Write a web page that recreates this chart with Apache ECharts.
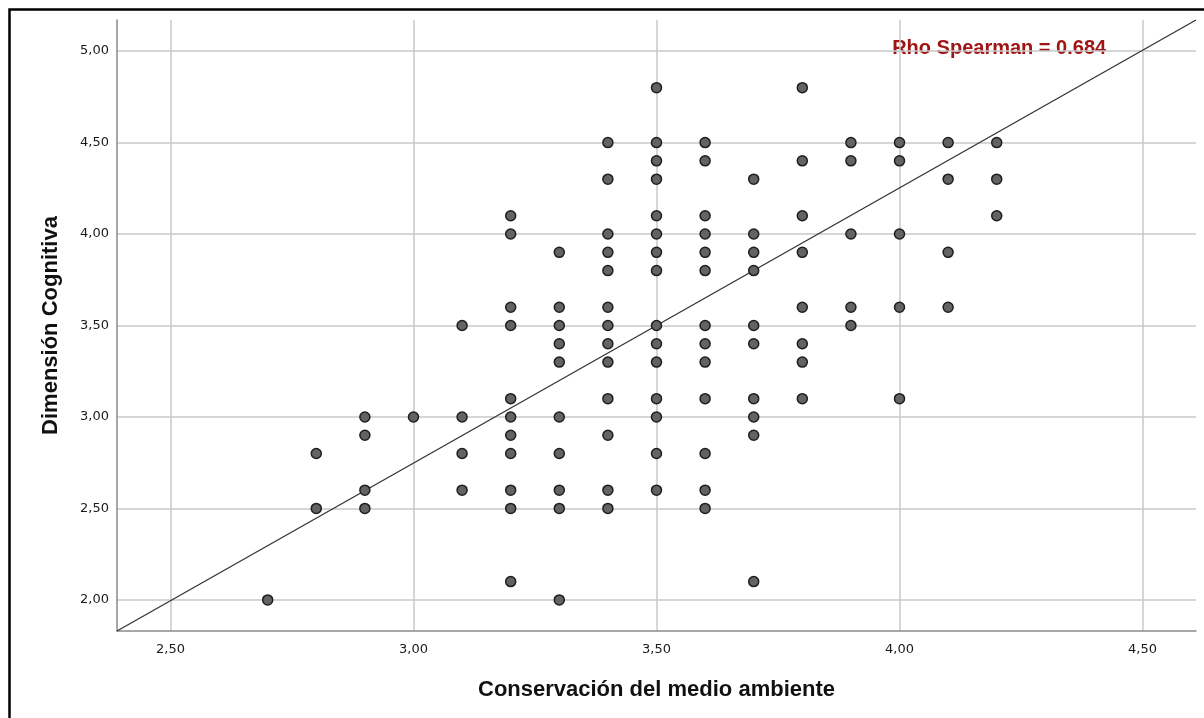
<!DOCTYPE html>
<html>
<head>
<meta charset="utf-8">
<script src="https://cdn.jsdelivr.net/npm/echarts@6/dist/echarts.min.js"></script>
<style>
  html, body { margin: 0; padding: 0; background: #fff; }
  #chart { width: 1204px; height: 718px; }
</style>
</head>
<body>
<div id="chart"></div>
<script>
// x levels (Conservación del medio ambiente) and the y values seen at each level
var xLevels = [2.7, 2.8, 2.9, 3.0, 3.1, 3.2, 3.3, 3.4, 3.5, 3.6, 3.7, 3.8, 3.9, 4.0, 4.1, 4.2];
var yByX = [
  [2.0],
  [2.8, 2.5],
  [3.0, 2.9, 2.6, 2.5],
  [3.0],
  [3.5, 3.0, 2.8, 2.6],
  [4.1, 4.0, 3.6, 3.5, 3.1, 3.0, 2.9, 2.8, 2.6, 2.5, 2.1],
  [3.9, 3.6, 3.5, 3.4, 3.3, 3.0, 2.8, 2.6, 2.5, 2.0],
  [4.5, 4.3, 4.0, 3.9, 3.8, 3.6, 3.5, 3.4, 3.3, 3.1, 2.9, 2.6, 2.5],
  [4.8, 4.5, 4.4, 4.3, 4.1, 4.0, 3.9, 3.8, 3.5, 3.4, 3.3, 3.1, 3.0, 2.8, 2.6],
  [4.5, 4.4, 4.1, 4.0, 3.9, 3.8, 3.5, 3.4, 3.3, 3.1, 2.8, 2.6, 2.5],
  [4.3, 4.0, 3.9, 3.8, 3.5, 3.4, 3.1, 3.0, 2.9, 2.1],
  [4.8, 4.4, 4.1, 3.9, 3.6, 3.4, 3.3, 3.1],
  [4.5, 4.4, 4.0, 3.6, 3.5],
  [4.5, 4.4, 4.0, 3.6, 3.1],
  [4.5, 4.3, 3.9, 3.6],
  [4.5, 4.3, 4.1]
];
// fit line endpoints (read at the plot edges)
var fitX = [2.39, 4.61];
var fitY = [1.83, 5.17];
var xTicks = [2.5, 3.0, 3.5, 4.0, 4.5];
var yTicks = [2.0, 2.5, 3.0, 3.5, 4.0, 4.5, 5.0];
var rhoText = "Rho Spearman = 0.684";

var points = [];
xLevels.forEach(function (x, i) {
  yByX[i].forEach(function (y) { points.push([x, y]); });
});

function fmt(v) { return v.toFixed(2).replace(".", ","); }

var chart = echarts.init(document.getElementById("chart"));
var axisLine = { show: true, onZero: false, lineStyle: { color: "#8a8a8a", width: 1.5 } };
var gridLine = { show: true, lineStyle: { color: "#c8c8c8", width: 1.5 } };
var tickFont = { fontFamily: "DejaVu Sans", fontSize: 13, color: "#1a1a1a" };

var option = {
  animation: false,
  backgroundColor: "#fff",
  textStyle: { fontFamily: "Liberation Sans, Arial, sans-serif" },
  grid: { left: 117, right: 8, top: 20, bottom: 87 },
  graphic: [
    {
      type: "rect",
      shape: { x: 9.5, y: 9.5, width: 1220, height: 740 },
      style: { fill: "none", stroke: "#000", lineWidth: 2.5 },
      silent: true
    }
  ],
  xAxis: {
    type: "value",
    min: 2.39,
    max: 4.61,
    name: "Conservación del medio ambiente",
    nameLocation: "middle",
    nameGap: 48,
    nameTextStyle: { fontSize: 22, fontWeight: "bold", color: "#111" },
    axisLine: axisLine,
    axisTick: { show: false, customValues: xTicks },
    axisLabel: Object.assign({ customValues: xTicks, formatter: fmt, margin: 12 }, tickFont),
    splitLine: gridLine
  },
  yAxis: {
    type: "value",
    min: 1.83,
    max: 5.17,
    name: "Dimensión Cognitiva",
    nameLocation: "middle",
    nameGap: 55,
    nameTextStyle: { fontSize: 22, fontWeight: "bold", color: "#111" },
    axisLine: axisLine,
    axisTick: { show: false, customValues: yTicks },
    axisLabel: Object.assign({ customValues: yTicks, formatter: fmt, margin: 8 }, tickFont),
    splitLine: gridLine
  },
  series: [
    {
      type: "line",
      data: [[fitX[0], fitY[0]], [fitX[1], fitY[1]]],
      symbol: "none",
      lineStyle: { color: "#333", width: 1.3 },
      z: 3,
      silent: true
    },
    {
      type: "scatter",
      data: points,
      symbolSize: 10,
      itemStyle: { color: "#636363", borderColor: "#1e1e1e", borderWidth: 1.5, opacity: 1 },
      z: 4
    }
  ]
};
chart.setOption(option);

// correlation note placed in data coordinates near the top right
var pos = chart.convertToPixel({ gridIndex: 0 }, [4.205, 5.015]);
chart.setOption({
  graphic: [
    option.graphic[0],
    {
      type: "text",
      x: pos[0],
      y: pos[1],
      style: {
        text: rhoText,
        fill: "#a01414",
        font: "bold 20px Liberation Sans, Arial, sans-serif",
        align: "center",
        verticalAlign: "middle"
      },
      silent: true
    }
  ]
});
</script>
</body>
</html>
